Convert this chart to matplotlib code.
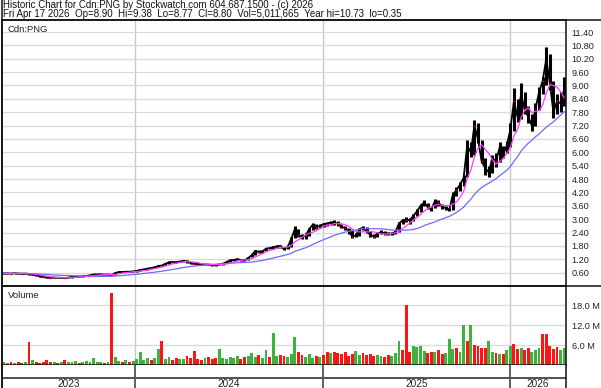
import numpy as np
import pandas as pd
import matplotlib
matplotlib.use("Agg")
import matplotlib.pyplot as plt
from matplotlib.lines import Line2D

# ---------------- data (weekly, week of 2023-04-17 .. week of 2026-04-13) ----------------
close = [0.57,0.57,0.56,0.58,0.56,0.55,0.56,0.54,0.50,0.48,
         0.44,0.40,0.38,0.37,0.38,0.37,0.37,0.35,0.38,0.41,
         0.43,0.42,0.44,0.45,0.48,0.52,0.52,0.53,0.51,0.52,
         0.50,0.58,0.63,0.63,0.64,0.64,0.66,0.68,0.72,0.75,
         0.78,0.81,0.84,0.90,0.92,1.00,1.06,1.08,1.07,1.10,
         1.13,1.10,1.03,1.00,0.98,0.96,0.97,0.96,0.95,0.94,
         0.97,1.00,1.08,1.15,1.17,1.20,1.16,1.15,1.25,1.38,
         1.58,1.52,1.55,1.68,1.70,1.74,1.78,1.80,1.66,1.75,
         2.10,2.55,2.30,2.20,2.25,2.55,2.75,2.65,2.70,2.78,
         2.80,2.85,2.85,2.80,2.66,2.60,2.50,2.22,2.28,2.55,
         2.62,2.45,2.30,2.22,2.35,2.42,2.36,2.35,2.36,2.42,
         2.80,2.95,2.98,2.95,3.15,3.35,3.60,3.75,3.55,3.45,
         3.80,3.75,3.55,3.50,3.42,4.10,4.30,4.55,4.85,6.30,
         6.00,7.20,6.60,5.60,5.30,5.10,5.75,5.60,6.20,5.90,
         6.30,7.00,8.30,7.60,8.60,7.90,7.60,7.20,7.95,8.70,
         9.20,10.20,9.10,7.80,8.30,8.20,8.80]
high = [0.59,0.59,0.58,0.60,0.59,0.57,0.58,0.57,0.54,0.51,
        0.48,0.44,0.41,0.40,0.40,0.40,0.39,0.38,0.40,0.43,
        0.45,0.44,0.46,0.47,0.50,0.54,0.55,0.55,0.53,0.54,
        0.53,0.61,0.66,0.66,0.67,0.67,0.69,0.71,0.75,0.78,
        0.81,0.84,0.88,0.93,0.96,1.04,1.10,1.12,1.11,1.14,
        1.17,1.15,1.09,1.04,1.02,1.00,1.00,0.99,0.98,0.98,
        1.00,1.04,1.12,1.19,1.21,1.24,1.21,1.19,1.30,1.43,
        1.63,1.60,1.60,1.72,1.76,1.79,1.83,1.86,1.76,1.80,
        2.20,2.68,2.58,2.35,2.36,2.62,2.82,2.78,2.80,2.85,
        2.88,2.92,2.95,2.90,2.80,2.70,2.62,2.52,2.40,2.62,
        2.70,2.65,2.48,2.35,2.42,2.50,2.46,2.42,2.44,2.50,
        2.88,3.02,3.08,3.05,3.22,3.45,3.70,3.85,3.72,3.55,
        3.92,3.85,3.70,3.60,3.52,4.20,4.45,4.68,4.98,6.55,
        6.45,7.45,7.30,6.55,5.75,5.40,5.90,5.95,6.45,6.30,
        6.50,7.30,8.90,8.40,9.10,8.70,8.10,7.70,8.20,8.95,
        9.40,10.73,10.40,9.20,8.60,8.70,9.38]
low = [0.55,0.55,0.54,0.55,0.54,0.53,0.54,0.50,0.48,0.45,
       0.42,0.39,0.37,0.36,0.36,0.36,0.35,0.35,0.35,0.38,
       0.40,0.40,0.42,0.43,0.45,0.48,0.50,0.50,0.49,0.50,
       0.48,0.50,0.60,0.61,0.61,0.62,0.63,0.65,0.68,0.71,
       0.74,0.77,0.80,0.85,0.88,0.94,1.00,1.04,1.03,1.06,
       1.08,1.05,1.00,0.97,0.95,0.94,0.94,0.93,0.92,0.91,
       0.93,0.96,1.02,1.09,1.12,1.15,1.12,1.11,1.17,1.28,
       1.40,1.48,1.49,1.56,1.64,1.68,1.72,1.70,1.62,1.65,
       1.75,2.15,2.22,2.10,2.12,2.25,2.52,2.58,2.60,2.66,
       2.70,2.76,2.76,2.68,2.60,2.52,2.35,2.15,2.18,2.25,
       2.50,2.38,2.22,2.15,2.20,2.32,2.30,2.28,2.30,2.33,
       2.42,2.78,2.88,2.80,2.92,3.12,3.30,3.58,3.45,3.36,
       3.50,3.60,3.45,3.40,3.35,3.40,4.05,4.25,4.50,4.90,
       5.80,5.90,6.40,5.50,5.00,4.90,5.05,5.35,5.55,5.75,
       5.95,6.25,6.95,7.35,7.50,7.70,7.30,6.95,7.20,7.90,
       8.60,9.00,8.80,7.55,7.70,7.80,8.10]
volume_m = [0.8,0.6,1.0,0.7,0.9,0.6,0.8,6.8,1.5,0.9,
            0.7,1.0,1.5,0.8,0.9,0.6,1.0,1.5,0.8,0.9,
            1.1,0.7,0.9,1.2,0.8,2.0,1.0,0.9,0.7,0.8,
            21.6,2.5,1.2,0.9,1.5,1.0,1.3,1.8,4.0,1.6,
            2.0,1.5,2.2,4.9,7.1,1.8,2.5,1.6,2.0,1.7,
            1.9,2.6,2.0,4.3,1.8,1.5,2.1,2.4,1.7,2.0,
            4.9,2.2,1.8,2.5,2.0,2.8,1.9,2.3,2.6,3.7,
            2.4,2.9,2.2,4.6,2.5,9.7,2.8,3.0,2.6,2.4,
            3.2,8.3,3.8,2.9,2.5,3.3,2.2,2.7,2.4,3.1,
            3.8,3.5,4.0,3.6,3.2,3.9,2.8,3.4,4.1,3.0,
            3.6,2.9,3.3,2.6,3.0,2.7,2.4,3.1,2.8,3.5,
            7.1,4.5,18.2,3.8,5.6,5.4,5.6,4.2,3.6,4.0,
            3.8,4.5,3.2,3.6,7.9,4.8,5.2,4.0,12.2,7.1,
            12.2,6.0,5.6,5.2,5.0,7.1,4.0,3.6,3.2,3.4,
            4.6,5.8,6.2,4.8,5.0,4.4,5.2,4.0,4.6,5.0,
            9.4,9.2,5.6,4.8,5.5,4.6,5.0]
vol_dir = ("GGRGRRGRGR" "RRRRGRGRGG" "GRGGGGGGRG" "RGGRGRGGGG" "GRGGRGGRRG"
           "GRRRRRGRRR" "GGGGGGRRGG" "GRGGRGGRRG" "GGRRGGGRGR" "RGRRRRRRGG"
           "RRRRGGRRGG" "GRRRGGGGRR" "GRRGGGRGGR" "GRRRRGGRGR" "GGRRGRRGGG"
           "RRRRRGG")
first_week = "2023-04-17"
year_starts = ["2024-01-01", "2025-01-01", "2026-01-01"]
year_labels = ["2023", "2024", "2025", "2026"]
price_ticks = [0.60,1.20,1.80,2.40,3.00,3.60,4.20,4.80,5.40,6.00,6.60,7.20,
               7.80,8.40,9.00,9.60,10.20,10.80,11.40]
vol_ticks = [6.0, 12.0, 18.0]
header1 = "Historic Chart for Cdn:PNG by Stockwatch.com 604.687.1500 - (c) 2026"
header2 = ("Fri Apr 17 2026  Op=8.90  Hi=9.38  Lo=8.77  Cl=8.80  "
           "Vol=5,011,665  Year hi=10.73  lo=0.35")
ma_short_weeks = 5
ma_long_weeks = 20

# ---------------- figure ----------------
plt.rcParams['font.family'] = ['Liberation Sans', 'DejaVu Sans']
W, H = 601, 388
fig = plt.figure(figsize=(W / 100, H / 100), dpi=100)
fig.patch.set_facecolor("white")

def fx(px):
    return px / W

def fy(py):
    return 1 - py / H

L, R = 2, 566
ax1 = fig.add_axes([fx(L), fy(286), fx(R) - fx(L), fy(20) - fy(286)])
ax2 = fig.add_axes([fx(L), fy(365), fx(R) - fx(L), fy(286) - fy(365)])
ax3 = fig.add_axes([fx(L), 0.0, fx(R) - fx(L), fy(365)])

n = len(close)
weeks = pd.date_range(first_week, periods=n, freq="7D")
xs = np.arange(n) + 0.5
c = pd.Series(close)
ma_s = c.rolling(ma_short_weeks, min_periods=1).mean()
ma_l = c.rolling(ma_long_weeks, min_periods=1).mean()
bounds = [(pd.Timestamp(d) - weeks[0]).days / 7.0 for d in year_starts]
xmax = float(n)

grid_c = "#d9d9d9"
year_c = "#c8c8c8"
TXT = 6.6

for ax in (ax1, ax2):
    ax.set_xlim(0, xmax)
    ax.set_xticks([])
    for b in bounds:
        ax.axvline(b, color=year_c, lw=1.0, zorder=0)
    for s in ax.spines.values():
        s.set_color("#111111")
        s.set_linewidth(1.1)

# price panel
ax1.set_ylim(0, 11.94)
for t in price_ticks:
    ax1.axhline(t, color=grid_c, lw=0.9, zorder=0)
ax1.vlines(xs, low, high, color="black", lw=2.2, zorder=2)
ax1.plot(xs, close, color="black", lw=1.3, zorder=2)
down = np.array([d == "R" for d in vol_dir])
ax1.plot(xs[down][::2], np.array(close)[down][::2], "s", ms=1.1, mew=0,
         color="red", zorder=3)
ax1.plot(xs, ma_l, color="#6b6bff", lw=0.9, zorder=4)
ax1.plot(xs, ma_s, color="#ff3cff", lw=0.9, zorder=4)
ax1.yaxis.tick_right()
ax1.set_yticks(price_ticks)
ax1.set_yticklabels([f"{t:.2f}" for t in price_ticks])
ax1.tick_params(axis="y", length=0, pad=4, labelsize=TXT, colors="#222222")

# volume panel
ax2.set_ylim(0, 23.8)
for t in vol_ticks:
    ax2.axhline(t, color=grid_c, lw=0.9, zorder=0)
vcols = ["#ff1414" if d == "R" else "#3db33d" for d in vol_dir]
ax2.bar(xs, volume_m, width=0.8, color=vcols, linewidth=0, zorder=2)
ax2.yaxis.tick_right()
ax2.set_yticks(vol_ticks)
ax2.set_yticklabels([f"{t:.1f} M" for t in vol_ticks])
ax2.tick_params(axis="y", length=0, pad=4, labelsize=TXT, colors="#222222")

# date label row
ax3.set_xlim(0, xmax)
ax3.set_ylim(0, 23)
ax3.set_xticks([])
ax3.set_yticks([])
for s in ("top", "bottom"):
    ax3.spines[s].set_visible(False)
for s in ("left", "right"):
    ax3.spines[s].set_color("#111111")
    ax3.spines[s].set_linewidth(1.1)
ax3.axhline(23 - 13, color="#222222", lw=1.1)
for b in bounds:
    ax3.axvline(b, color="#555555", lw=1.3)
edges = [0.0] + bounds + [xmax]
for i, lab in enumerate(year_labels):
    ax3.text((edges[i] + edges[i + 1]) / 2, 4.0, lab, ha="center", va="center",
             fontsize=TXT + 0.6, color="#222222")

# texts
fig.text(fx(3), fy(5), header1, ha="left", va="center", fontsize=7.0, color="#111111")
fig.text(fx(3), fy(14), header2, ha="left", va="center", fontsize=7.0, color="#111111")
fig.text(fx(8), fy(29), "Cdn:PNG", ha="left", va="center", fontsize=TXT + 0.2, color="#222222")
fig.text(fx(8), fy(296), "Volume", ha="left", va="center", fontsize=TXT + 0.2, color="#222222")

# frame lines
fig.add_artist(Line2D([fx(L), fx(L)], [0, 1], color="#111111", lw=1.1))
fig.add_artist(Line2D([fx(L), 1], [fy(20), fy(20)], color="#111111", lw=1.1))
fig.add_artist(Line2D([fx(L), 1], [fy(286), fy(286)], color="#111111", lw=1.1))

fig.savefig("out.png", dpi=100, facecolor="white")
